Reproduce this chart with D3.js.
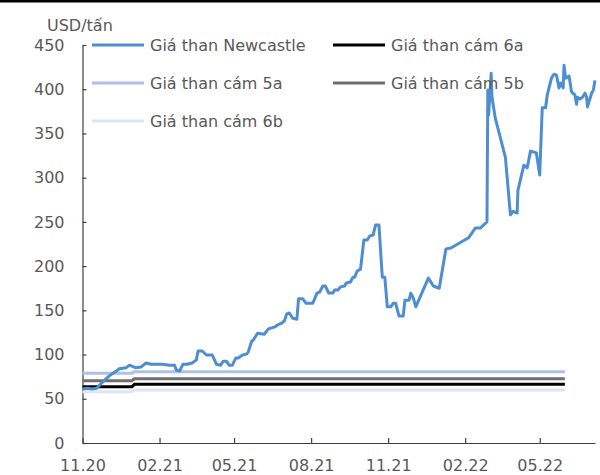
<!DOCTYPE html>
<html>
<head>
<meta charset="utf-8">
<script src="https://cdn.jsdelivr.net/npm/d3@7"></script>
<style>
  html, body { margin: 0; padding: 0; background: #fff; }
  svg { display: block; }
  text { font-family: "DejaVu Sans", sans-serif; fill: #595959; }
</style>
</head>
<body>
<svg id="chart" width="600" height="475"></svg>
<script>
// ---------- DATA ----------
const newcastleDates = [
"2020-11-01","2020-11-07","2020-11-12","2020-11-18","2020-11-24","2020-12-03","2020-12-11","2020-12-15","2020-12-23","2020-12-27","2020-12-30",
"2021-01-04","2021-01-10","2021-01-16","2021-01-22","2021-01-28","2021-02-04","2021-02-13","2021-02-19","2021-02-21","2021-02-25",
"2021-03-01","2021-03-06","2021-03-12","2021-03-17","2021-03-19","2021-03-24","2021-03-29","2021-04-05","2021-04-10","2021-04-15",
"2021-04-18","2021-04-22","2021-04-25","2021-04-29","2021-05-03","2021-05-06","2021-05-11","2021-05-16","2021-05-18","2021-05-22",
"2021-05-24","2021-05-29","2021-06-06","2021-06-11","2021-06-18","2021-06-22","2021-06-27","2021-06-30","2021-07-03","2021-07-06",
"2021-07-10","2021-07-15","2021-07-17","2021-07-22","2021-07-26","2021-08-03","2021-08-08","2021-08-11","2021-08-15","2021-08-18",
"2021-08-22","2021-08-27","2021-08-29","2021-09-02","2021-09-05","2021-09-10","2021-09-12","2021-09-17","2021-09-20","2021-09-22",
"2021-09-25","2021-09-29","2021-10-03","2021-10-07","2021-10-10","2021-10-14","2021-10-17","2021-10-21","2021-10-25","2021-10-28",
"2021-10-31","2021-11-04","2021-11-07","2021-11-10","2021-11-14","2021-11-19","2021-11-21","2021-11-26","2021-11-28","2021-12-01",
"2021-12-04","2021-12-19","2021-12-25","2022-01-01","2022-01-09","2022-01-15","2022-02-05","2022-02-13","2022-02-19","2022-02-27",
"2022-02-28","2022-03-01","2022-03-03","2022-03-04","2022-03-05","2022-03-09","2022-03-21","2022-03-27","2022-03-30","2022-04-04",
"2022-04-05","2022-04-12","2022-04-16","2022-04-20","2022-04-27","2022-05-01","2022-05-04","2022-05-08","2022-05-10","2022-05-15",
"2022-05-18","2022-05-21","2022-05-24","2022-05-26","2022-05-29","2022-05-30","2022-06-01","2022-06-05","2022-06-08","2022-06-12",
"2022-06-14","2022-06-15","2022-06-18","2022-06-21","2022-06-24","2022-06-26","2022-06-27","2022-07-02","2022-07-04","2022-07-06"
];
const newcastleValues = [
61,62,61,62,68,76,81,84,85,88,87,
85,86,90.5,89,89,89,88,88,82.5,81.5,
89,89,90.5,94,104,104,99.5,99.5,89,88,
92.5,92.5,88,88,96,96,99.5,100.5,103,115,
116.5,124,123,129,131,133.5,135.5,138,146,147,
141,140,163,163,158,158,169.5,170.5,177.5,177.5,
169.5,169.5,173,173,176.5,177.5,181,182,187.5,187.5,
194.5,196.5,229.5,229.5,234,235,246.5,246.5,187.5,187.5,
154,154,158,158,143.5,143.5,161.5,161.5,169.5,164,
154,186.5,177.5,175,219.5,220.5,232,243,243,250,
399,371,402,418,391,367,323,258,262,260,
286,314,311,330,328,303,379,379,393.5,412.5,
417,416,401.5,407,401.5,427,412.5,415,397,393.5,
383,391,389,391,395.5,391,380,395.5,399,410
];
const flatDates = ["2020-11-01","2020-12-30","2021-01-02","2022-05-31"];
const cam6aValues = [63.5, 63.5, 66.3, 66.3];
const cam5aValues = [79, 79, 80.5, 80.5];
const cam5bValues = [70.5, 70.5, 72.7, 72.7];
const cam6bValues = [58, 58, 60, 60];

const seriesNames = ["Giá than Newcastle","Giá than cám 6a","Giá than cám 5a","Giá than cám 5b","Giá than cám 6b"];
const yTicks = [0,50,100,150,200,250,300,350,400,450];
const xTickDates = ["2020-11-01","2021-02-01","2021-05-01","2021-08-01","2021-11-01","2022-02-01","2022-05-01"];
const xTickLabels = ["11.20","02.21","05.21","08.21","11.21","02.22","05.22"];
const yUnit = "USD/tấn";

// ---------- CHART ----------
(function(){
const parse = d3.timeParse("%Y-%m-%d");
const svg = d3.select("#chart");
const mLeft = 82.5, mRight = 595, mTop = 45, mBottom = 443;

const x = d3.scaleTime().domain([parse("2020-11-01"), parse("2022-07-06")]).range([mLeft, mRight]);
const y = d3.scaleLinear().domain([0, 450]).range([mBottom, mTop]);

// top border
svg.append("rect").attr("x",0).attr("y",0).attr("width",600).attr("height",2.5).attr("fill","#000");

// unit label
svg.append("text").attr("x",47).attr("y",30.5).attr("font-size",16).text(yUnit);

// axes
const axisColor = "#404040";
const yAxis = d3.axisLeft(y).tickValues(yTicks).tickSizeInner(-4).tickSizeOuter(0).tickPadding(18);
const gy = svg.append("g").attr("transform",`translate(${mLeft},0)`).call(yAxis);
gy.select(".domain").attr("stroke",axisColor).attr("stroke-width",1.2);
gy.selectAll(".tick line").attr("stroke",axisColor).attr("stroke-width",1.2);
gy.selectAll(".tick text").attr("font-size",16).attr("font-family","DejaVu Sans").attr("fill","#595959");

const xAxis = d3.axisBottom(x).tickValues(xTickDates.map(parse))
  .tickFormat((d,i)=>xTickLabels[i]).tickSizeInner(-5).tickSizeOuter(0).tickPadding(17);
const gx = svg.append("g").attr("transform",`translate(0,${mBottom})`).call(xAxis);
gx.select(".domain").attr("stroke",axisColor).attr("stroke-width",1.2);
gx.selectAll(".tick line").attr("stroke",axisColor).attr("stroke-width",1.2);
gx.selectAll(".tick text").attr("font-size",16).attr("font-family","DejaVu Sans").attr("fill","#595959").attr("dy","0.71em");

// lines
const line = d3.line().x(d=>x(d[0])).y(d=>y(d[1]));
const flatSeries = [
  {vals: cam5aValues, color:"#A9C2E5"},
  {vals: cam6bValues, color:"#DCE6F3"},
  {vals: cam5bValues, color:"#6E6E6E"},
  {vals: cam6aValues, color:"#000000"}
];
flatSeries.forEach(s=>{
  svg.append("path").datum(flatDates.map((d,i)=>[parse(d), s.vals[i]]))
    .attr("d",line).attr("fill","none").attr("stroke",s.color).attr("stroke-width",3);
});
svg.append("path").datum(newcastleDates.map((d,i)=>[parse(d), newcastleValues[i]]))
  .attr("d",line).attr("fill","none").attr("stroke","#4E8ED0").attr("stroke-width",3)
  .attr("stroke-linejoin","round");

// legend
const legendItems = [
  {name: seriesNames[0], color:"#4E8ED0", lx:92, tx:150, ly:45},
  {name: seriesNames[1], color:"#000000", lx:333, tx:391, ly:45},
  {name: seriesNames[2], color:"#A9C2E5", lx:92, tx:150, ly:83},
  {name: seriesNames[3], color:"#6E6E6E", lx:333, tx:391, ly:83},
  {name: seriesNames[4], color:"#DCE6F3", lx:92, tx:150, ly:121}
];
legendItems.forEach(it=>{
  svg.append("line").attr("x1",it.lx).attr("x2",it.lx+52).attr("y1",it.ly).attr("y2",it.ly)
    .attr("stroke",it.color).attr("stroke-width",3);
  svg.append("text").attr("x",it.tx).attr("y",it.ly).attr("dy","0.36em").attr("font-size",16).text(it.name);
});
})();
</script>
</body>
</html>
